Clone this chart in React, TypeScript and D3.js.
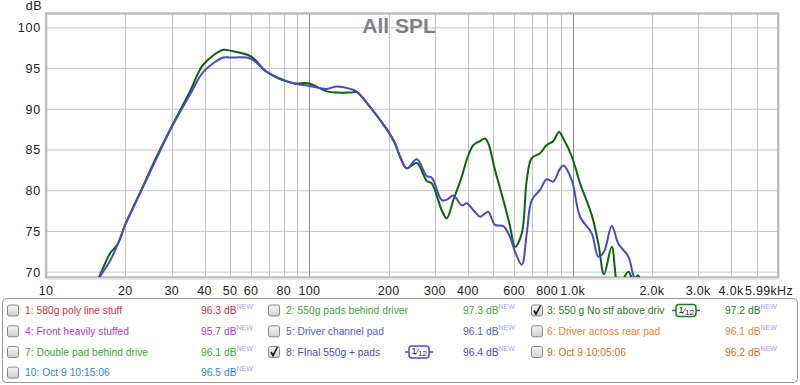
import * as React from 'react';
import * as d3 from 'd3';

// frequency points (Hz) shared by both visible traces
const freqs = [15, 16, 17.5, 18.75, 20, 22.7, 26.3, 30, 35.2, 39.6, 47.1, 50, 60, 68.9, 87, 99, 116.5, 127, 143, 151, 170, 199.5, 211.7, 221, 234.5, 255.9, 279.3, 291.7, 318.4, 332.7, 352.5, 379.3, 396.3, 420, 445.3, 465.2, 478.7, 507.6, 545.9, 578.8, 604.6, 641.2, 669.9, 699.8, 752.5, 798, 845.5, 888.8, 922.6, 993, 1068, 1183, 1253, 1317, 1409, 1493, 1629, 1702, 1774, 1850];

// 3: 550 g No stf above driv
const splNoStuff = [67.5, 69.6, 72.3, 73.5, 75.9, 79.7, 84.2, 87.9, 92.2, 95.5, 97.3, 97.2, 96.5, 94.6, 93.2, 93.2, 92.2, 92.05, 92.05, 92.1, 90.3, 87.25, 85.8, 84.2, 82.75, 83.4, 81.2, 80.9, 77.6, 76.6, 78.85, 81.7, 83.8, 85.6, 86.1, 86.4, 85.8, 82.5, 78.85, 75.6, 73.1, 74.75, 81.3, 84.0, 84.6, 85.6, 86.1, 87.2, 86.4, 84.2, 80.9, 77.0, 73.5, 69.75, 73.1, 68.3, 70.05, 69.0, 69.6, 67.5];

// 8: FInal 550g + pads
const splFinal = [67.3, 69.4, 71.4, 73.5, 75.8, 79.6, 84.0, 87.8, 91.8, 94.6, 96.35, 96.35, 96.2, 94.6, 93.2, 92.9, 92.5, 92.8, 92.5, 92.2, 90.3, 87.25, 85.8, 84.2, 82.75, 83.85, 81.8, 81.6, 78.85, 78.9, 79.4, 78.2, 78.45, 77.6, 76.8, 77.2, 77.4, 75.8, 75.65, 74.3, 72.5, 70.9, 74.75, 78.85, 80.1, 81.4, 81.1, 82.5, 83.1, 81.3, 76.8, 74.75, 71.9, 72.5, 75.65, 73.5, 71.9, 69.6, 68.3, 67];

const yTicks = [70, 75, 80, 85, 90, 95, 100];
const xTickValues = [10, 20, 30, 40, 50, 60, 80, 100, 200, 300, 400, 600, 800, 1000, 2000, 3000, 4000];
const xTickLabels = ['10', '20', '30', '40', '50', '60', '80', '100', '200', '300', '400', '600', '800', '1.0k', '2.0k', '3.0k', '4.0k'];
const xGridValues = [20, 30, 40, 50, 60, 70, 80, 90, 100, 200, 300, 400, 500, 600, 700, 800, 900, 1000, 2000, 3000, 4000, 5000];

const legendNames = ['1: 580g poly line stuff', '2: 550g pads behind driver', '3: 550 g No stf above driv', '4: Front heavily stuffed', '5: Driver channel pad', '6: Driver across rear pad', '7: Double pad behind drive', '8: FInal 550g + pads', '9: Oct 9 10:05:06', '10: Oct 9 10:15:06'];
const legendValues = [96.3, 97.3, 97.2, 95.7, 96.1, 96.1, 96.1, 96.4, 96.2, 96.5];
const legendColors = ['#d0303e', '#3aa83a', '#1e7a1e', '#b03cc0', '#5a5ad6', '#e8842e', '#3aa83a', '#4c4cc4', '#c27420', '#2f82d0'];
const legendChecked = [false, false, true, false, false, false, false, true, false, false];

const W = 800, H = 385;
const plot = { left: 46.1, top: 14, right: 777.2, bottom: 277 };
const FONT = '"Liberation Sans", Arial, sans-serif';

class App extends React.Component<object, object> {
    private node: SVGSVGElement | null = null;

    render() {
        return <svg ref={node => this.node = node} width={W} height={H}
            style={{ position: 'absolute', left: 0, top: 0, background: '#fff' }} />;
    }

    componentDidMount() {
        this.draw();
    }

    draw() {
        const svg = d3.select(this.node);
        svg.selectAll('*').remove();

        const x = d3.scaleLog().domain([10, 5990]).range([plot.left, plot.right]);
        const y = d3.scaleLinear().domain([69.4, 101.7]).range([plot.bottom, plot.top]);

        const defs = svg.append('defs');
        defs.append('clipPath').attr('id', 'plotClip')
            .append('rect')
            .attr('x', plot.left).attr('y', plot.top)
            .attr('width', plot.right - plot.left).attr('height', plot.bottom - plot.top);
        const grad = defs.append('linearGradient').attr('id', 'boxGrad')
            .attr('x1', 0).attr('y1', 0).attr('x2', 0).attr('y2', 1);
        grad.append('stop').attr('offset', '0%').attr('stop-color', '#f6f6f6');
        grad.append('stop').attr('offset', '100%').attr('stop-color', '#cfcfcf');

        // grid
        const grid = svg.append('g');
        grid.selectAll('line.h').data(yTicks).enter().append('line')
            .attr('x1', plot.left).attr('x2', plot.right)
            .attr('y1', d => y(d)).attr('y2', d => y(d))
            .attr('stroke', '#c4c4c4').attr('stroke-width', 1);
        grid.selectAll('line.v').data(xGridValues).enter().append('line')
            .attr('x1', d => Math.round(x(d)) + 0.5).attr('x2', d => Math.round(x(d)) + 0.5)
            .attr('y1', plot.top).attr('y2', plot.bottom)
            .attr('stroke', d => (d === 100 || d === 1000) ? '#8a8a8a' : '#c4c4c4')
            .attr('stroke-width', 1);

        // title
        svg.append('text')
            .attr('x', 399).attr('y', 33)
            .attr('text-anchor', 'middle')
            .attr('font-family', FONT).attr('font-weight', 'bold').attr('font-size', 21)
            .attr('fill', '#808080')
            .text('All SPL');

        // frame
        svg.append('rect')
            .attr('x', plot.left).attr('y', plot.top - 0.5)
            .attr('width', plot.right - plot.left + 1).attr('height', plot.bottom - plot.top + 1)
            .attr('fill', 'none').attr('stroke', '#bdbdbd').attr('stroke-width', 2.5);
        svg.append('line')
            .attr('x1', plot.left).attr('x2', plot.right + 2)
            .attr('y1', plot.bottom + 2).attr('y2', plot.bottom + 2)
            .attr('stroke', '#e2e2e2').attr('stroke-width', 1.5);

        // traces
        const line = d3.line<number>()
            .curve(d3.curveCatmullRom.alpha(0.5))
            .x((_, i) => x(freqs[i]))
            .y(d => y(d));
        const traces = svg.append('g').attr('clip-path', 'url(#plotClip)');
        traces.append('path')
            .datum(splNoStuff)
            .attr('fill', 'none').attr('stroke', '#0b650b').attr('stroke-width', 2)
            .attr('stroke-linejoin', 'round')
            .attr('d', line);
        traces.append('path')
            .datum(splFinal)
            .attr('fill', 'none').attr('stroke', '#4a4ac8').attr('stroke-width', 2)
            .attr('stroke-linejoin', 'round')
            .attr('d', line);

        // axes labels
        svg.append('text')
            .attr('x', 42).attr('y', 10).attr('text-anchor', 'end')
            .attr('font-family', FONT).attr('font-size', 12.5).attr('fill', '#222')
            .attr('letter-spacing', 0.5)
            .text('dB');
        svg.selectAll('text.yt').data(yTicks).enter().append('text')
            .attr('x', 41).attr('y', d => y(d) + 4.5)
            .attr('text-anchor', 'end')
            .attr('font-family', FONT).attr('font-size', 12.5).attr('fill', '#222')
            .attr('letter-spacing', 0.8)
            .text(d => String(d));
        svg.selectAll('text.xt').data(xTickValues).enter().append('text')
            .attr('x', d => x(d)).attr('y', 295)
            .attr('text-anchor', 'middle')
            .attr('font-family', FONT).attr('font-size', 12.5).attr('fill', '#222')
            .attr('letter-spacing', 0.3)
            .text((_, i) => xTickLabels[i]);
        svg.append('text')
            .attr('x', 793).attr('y', 295).attr('text-anchor', 'end')
            .attr('font-family', FONT).attr('font-size', 12.5).attr('fill', '#222')
            .attr('letter-spacing', 0.3)
            .text('5.99kHz');

        this.drawLegend(svg);
    }

    private drawLegend(svg: d3.Selection<any, any, null, undefined>) {
        svg.append('rect')
            .attr('x', 2.5).attr('y', 298.5).attr('width', 795).attr('height', 84)
            .attr('rx', 4)
            .attr('fill', '#fff').attr('stroke', '#9a9a9a');

        const colBox = [7, 268, 531];
        const colText = [25, 286, 547];
        const colValue = [201, 463, 725];
        const rowY = [310.5, 331.3, 352, 372.6];

        legendNames.forEach((name, i) => {
            const col = i % 3, row = Math.floor(i / 3);
            const cy = rowY[row];
            const g = svg.append('g');
            g.append('rect')
                .attr('x', colBox[col] + 0.5).attr('y', cy - 5.5)
                .attr('width', 11).attr('height', 11).attr('rx', 2)
                .attr('fill', 'url(#boxGrad)').attr('stroke', '#888');
            if (legendChecked[i]) {
                const bx = colBox[col];
                g.append('path')
                    .attr('d', `M${bx + 3},${cy} L${bx + 5},${cy + 3.5} L${bx + 9.5},${cy - 5}`)
                    .attr('fill', 'none').attr('stroke', '#111').attr('stroke-width', 1.6);
            }
            g.append('text')
                .attr('x', colText[col]).attr('y', cy + 3.8)
                .attr('font-family', FONT).attr('font-size', 10.3).attr('fill', legendColors[i])
                .text(name);
            const vt = g.append('text')
                .attr('x', colValue[col]).attr('y', cy + 3.8)
                .attr('font-family', FONT).attr('font-size', 10.3).attr('fill', legendColors[i]);
            vt.append('tspan').text(`${legendValues[i].toFixed(1)} dB`);
            vt.append('tspan').attr('dy', -5).attr('font-size', 7).attr('fill', '#a0a4ee').text('NEW');

            if (legendChecked[i]) {
                const bx = col === 2 ? 672 : 405;
                const stroke = col === 2 ? '#1e7a1e' : '#4c4cc4';
                g.append('line')
                    .attr('x1', bx).attr('x2', bx + 28).attr('y1', cy).attr('y2', cy)
                    .attr('stroke', stroke).attr('stroke-width', 1.5);
                g.append('rect')
                    .attr('x', bx + 4).attr('y', cy - 6).attr('width', 20).attr('height', 12)
                    .attr('rx', 3)
                    .attr('fill', '#fff').attr('stroke', stroke).attr('stroke-width', 1.5);
                const bt = g.append('text')
                    .attr('x', bx + 6.5).attr('y', cy + 3)
                    .attr('font-family', FONT).attr('font-size', 9).attr('fill', '#222');
                bt.append('tspan').attr('dy', -1).text('1');
                bt.append('tspan').attr('dy', 1).attr('font-size', 9).text('\u2044');
                bt.append('tspan').attr('dy', 1).attr('font-size', 8).text('12');
            }
        });
    }
}

export default App;
